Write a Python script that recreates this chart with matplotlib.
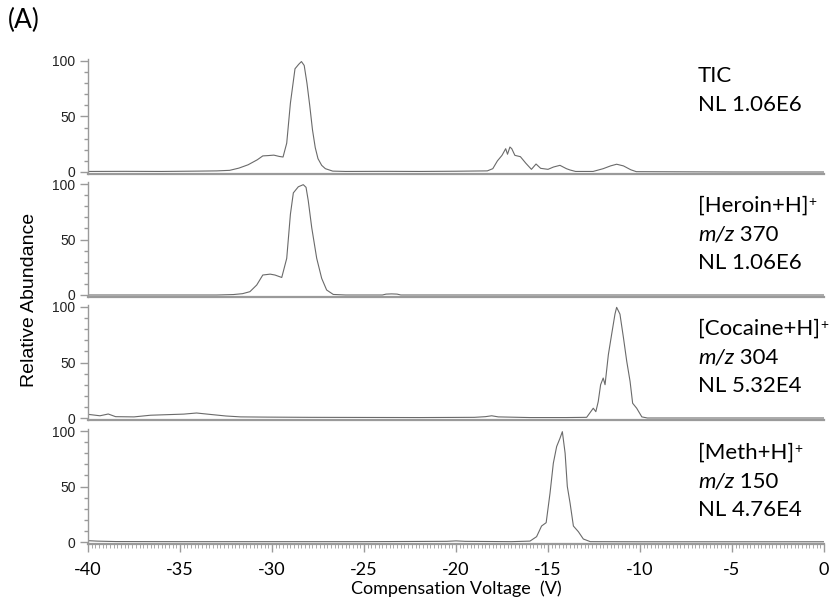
import numpy as np
import matplotlib
matplotlib.use("Agg")
import matplotlib.pyplot as plt
from matplotlib.ticker import MultipleLocator

plt.rcParams["axes.unicode_minus"] = False

# --- data (compensation voltage V, relative abundance %) ---
tic_cv = [-40, -38, -36, -34, -33, -32.3, -31.8, -31.3, -30.8, -30.5, -30.2, -29.9,
          -29.6, -29.4, -29.2, -29.0, -28.75, -28.55, -28.4, -28.25, -28.1, -27.95,
          -27.8, -27.65, -27.5, -27.3, -27.1, -26.7, -26.0, -24.0, -22.0, -20.0, -18.3,
          -18.0, -17.75, -17.5, -17.3, -17.2, -17.07, -16.97, -16.8, -16.5, -16.2,
          -15.9, -15.65, -15.4, -15.0, -14.7, -14.35, -14.0, -13.8, -13.5, -12.55,
          -12.0, -11.6, -11.27, -10.9, -10.5, -10.2, -5.0, 0.0]
tic_ab = [0.5, 0.6, 0.5, 0.8, 1.0, 1.5, 3.5, 6.5, 11, 14.5, 14.8, 15.2,
          14.0, 13.5, 26, 62, 93, 97, 99.5, 96, 80, 60,
          38, 22, 12, 6, 3, 0.8, 0.5, 0.6, 0.5, 0.7, 1.0,
          3, 10, 15, 21, 16, 22.5, 21, 15, 13.8, 7.8,
          2.4, 7.2, 3.3, 2.4, 4.5, 6.0, 3.0, 1.8, 0.5, 0.5,
          3.0, 5.5, 7.0, 5.5, 2.0, 0.3, 0.0, 0.0]

her_cv = [-40, -33, -32.1, -31.6, -31.2, -30.83, -30.5, -30.1, -29.84, -29.47, -29.2,
          -29.0, -28.84, -28.57, -28.3, -28.15, -28.03, -27.84, -27.57, -27.3, -27.03,
          -26.67, -26.0, -24.0, -23.8, -23.5, -23.2, -23.0, 0.0]
her_ab = [0, 0, 0.4, 1.2, 3, 9, 18, 18.8, 18, 15.8, 33,
          72.7, 92, 97.5, 99.4, 97, 85, 60.6, 33, 15, 4.5,
          0.5, 0, 0, 0.8, 1.0, 0.8, 0, 0]

coc_cv = [-40, -39.35, -38.9, -38.5, -37.5, -36.6, -35.7, -34.8, -34.1, -33.4, -32.5,
          -31.7, -30.3, -28, -25, -22, -19, -18.4, -18.06, -17.7, -16, -14, -12.9,
          -12.54, -12.4, -12.27, -12.14, -12.0, -11.9, -11.72, -11.54, -11.36, -11.27,
          -11.09, -10.9, -10.72, -10.54, -10.4, -10.18, -9.9, -9.6, -5.0, 0.0]
coc_ab = [3.3, 2.0, 3.6, 1.2, 1.0, 2.5, 3.0, 3.5, 4.5, 3.3, 1.8,
          1.0, 0.8, 0.6, 0.5, 0.4, 0.6, 1.2, 2.0, 1.0, 0.4, 0.4, 0.6,
          8.8, 5.7, 14.8, 30, 36, 30, 57, 75.5, 93.6, 99.7,
          93.6, 72.4, 51, 33, 13.3, 8.8, 1.0, 0.0, 0.0, 0.0]

meth_cv = [-40, -39.5, -38.5, -35, -30, -25, -20.5, -20.0, -19.5, -17, -15.98, -15.62,
           -15.35, -15.1, -14.89, -14.71, -14.53, -14.35, -14.22, -14.07, -13.95,
           -13.8, -13.62, -13.35, -13.08, -12.7, -10, -5, 0.0]
meth_ab = [1.2, 0.8, 0.4, 0.3, 0.3, 0.3, 0.6, 1.0, 0.6, 0.3, 0.8, 4.8,
           14.4, 17.4, 44, 71, 86, 93.4, 99.4, 80, 50,
           35, 14.4, 9.3, 2.7, 0.3, 0.2, 0.2, 0.2]

series = [(tic_cv, tic_ab), (her_cv, her_ab), (coc_cv, coc_ab), (meth_cv, meth_ab)]

# label lines: (species, m/z, normalisation level)
species = [None, "[Heroin+H]", "[Cocaine+H]", "[Meth+H]"]
mz = [None, "370", "304", "150"]
nl = ["NL 1.06E6", "NL 1.06E6", "NL 5.32E4", "NL 4.76E4"]

W, H = 839, 604
fig = plt.figure(figsize=(W / 100, H / 100), dpi=100)

gray = "#9a9a9a"
left = 88 / W
width = (824 - 88) / W
zero_px = [172, 295, 418, 542]
span_px = 111  # 0..100
ylo, yhi = -2, 102
ax_h = span_px * (yhi - ylo) / 100

tick_font = "Liberation Sans"
txt_font = "Lato"

axes = []
for i, (cv, ab) in enumerate(series):
    bottom_px = zero_px[i] + span_px * (0 - ylo) / 100
    ax = fig.add_axes([left, 1 - bottom_px / H, width, ax_h / H])
    ax.plot(cv, ab, color="#6a6a6a", lw=0.8)
    ax.set_xlim(-40, 0)
    ax.set_ylim(ylo, yhi)
    for s in ["top", "right"]:
        ax.spines[s].set_visible(False)
    ax.spines["left"].set_color(gray)
    ax.spines["bottom"].set_color(gray)
    ax.spines["left"].set_linewidth(1.0)
    ax.spines["bottom"].set_linewidth(1.6)
    ax.set_yticks([0, 50, 100])
    ax.yaxis.set_minor_locator(MultipleLocator(10))
    ax.tick_params(axis="y", which="major", length=6, width=1, color=gray,
                   labelsize=10, pad=3)
    ax.tick_params(axis="y", which="minor", length=3, width=1, color=gray)
    for lab in ax.get_yticklabels():
        lab.set_fontfamily(tick_font)
        lab.set_color("#222222")
    if i < 3:
        ax.tick_params(axis="x", which="both", bottom=False, labelbottom=False)
    else:
        ax.set_xticks(np.arange(-40, 1, 5))
        ax.xaxis.set_minor_locator(MultipleLocator(0.2))
        ax.tick_params(axis="x", which="major", length=6, width=1, color=gray,
                       labelsize=13, pad=7)
        ax.tick_params(axis="x", which="minor", length=3, width=0.6, color=gray)
        for lab in ax.get_xticklabels():
            lab.set_fontfamily(txt_font)
    axes.append(ax)

# x axis title placed directly under the ticks
fig.text((88 + 824) / 2 / W, 1 - 589 / H, "Compensation Voltage  (V)",
         fontsize=13, family=txt_font, ha="center", va="center")

# right-hand labels
xt = 698 / W
fs = 16
for i, ax in enumerate(axes):
    if i == 0:
        fig.text(xt, 1 - 76 / H, "TIC", fontsize=fs, family=txt_font, va="center")
        fig.text(xt, 1 - 105 / H, nl[0], fontsize=fs, family=txt_font, va="center")
        continue
    y0 = [None, 206, 329, 453][i]
    t = fig.text(xt, 1 - y0 / H, species[i], fontsize=fs, family=txt_font,
                 va="center")
    ax.annotate("+", xy=(1, 1), xycoords=t, fontsize=10, family=txt_font,
                va="top", ha="left", annotation_clip=False)
    t2 = fig.text(xt, 1 - (y0 + 28.5) / H, "m/z", fontsize=fs, family=txt_font,
                  style="italic", va="center")
    ax.annotate(" " + mz[i], xy=(1, 0), xycoords=t2, fontsize=fs,
                family=txt_font, va="bottom", ha="left", annotation_clip=False)
    fig.text(xt, 1 - (y0 + 57) / H, nl[i], fontsize=fs, family=txt_font,
             va="center")

fig.text(30 / W, 1 - 300 / H, "Relative Abundance", rotation=90, fontsize=14,
         family=tick_font, va="center", ha="center")
fig.text(8 / W, 1 - 20 / H, "(A)", fontsize=19, family=txt_font, va="center")

fig.savefig("out.png", dpi=100)
